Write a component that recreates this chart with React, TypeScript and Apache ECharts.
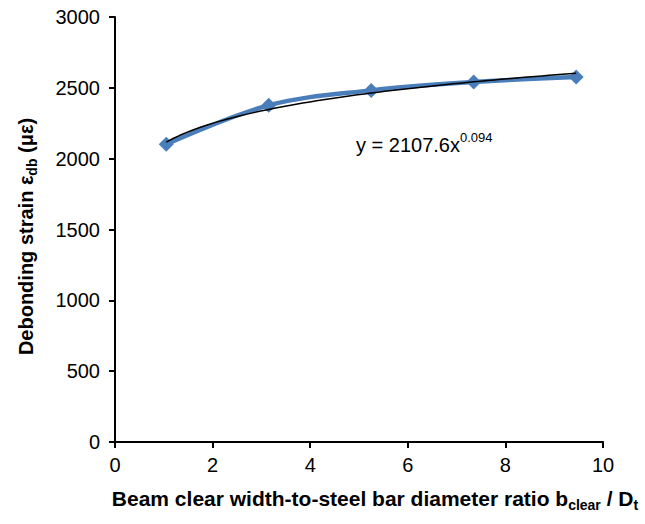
import React, { useEffect, useRef } from "react";
import * as echarts from "echarts";

const ratioValues = [1.05, 3.15, 5.25, 7.35, 9.45];
const strainValues = [2101, 2377, 2482, 2541, 2577];
const xTicks = { min: 0, max: 10, interval: 2 };
const yTicks = { min: 0, max: 3000, interval: 500 };
const trendCoef = 2107.6;
const trendExp = 0.094;

export default function App() {
  const ref = useRef<HTMLDivElement>(null);
  useEffect(() => {
    if (!ref.current) return;
    const chart = echarts.init(ref.current, null, { renderer: "svg" });
    const measured = ratioValues.map((x, i) => [x, strainValues[i]]);
    const x0 = ratioValues[0];
    const x1 = ratioValues[ratioValues.length - 1];
    const trend: number[][] = [];
    const n = 60;
    for (let i = 0; i <= n; i++) {
      const x = x0 + ((x1 - x0) * i) / n;
      trend.push([x, trendCoef * Math.pow(x, trendExp)]);
    }
    const font = "'Liberation Sans', Arial, sans-serif";
    const axisLine = { lineStyle: { color: "#000", width: 2 } };
    const axisTick = { length: 6, lineStyle: { color: "#000", width: 2 } };
    const plain = (v: number) => String(v);
    chart.setOption({
      animation: false,
      backgroundColor: "#fff",
      textStyle: { fontFamily: font },
      grid: { left: 115, right: 42, top: 17, bottom: 82 },
      xAxis: {
        type: "value",
        ...xTicks,
        axisLine,
        axisTick,
        splitLine: { show: false },
        axisLabel: { fontSize: 20, color: "#000", margin: 13, fontFamily: font, formatter: plain },
        name: "{n|Beam clear width-to-steel bar diameter ratio b}{s|clear}{n| / D}{s|t}",
        nameLocation: "middle",
        nameGap: 42,
        nameTextStyle: {
          padding: [0, 0, 0, 32],
          rich: {
            n: { fontSize: 21, fontWeight: "bold", color: "#000", fontFamily: font, lineHeight: 28, verticalAlign: "middle" },
            s: { fontSize: 14, fontWeight: "bold", color: "#000", fontFamily: font, lineHeight: 28, verticalAlign: "bottom", padding: [9, 0, 0, 0] },
          },
        },
      },
      yAxis: {
        type: "value",
        ...yTicks,
        axisLine: { show: true, ...axisLine },
        axisTick: { show: true, ...axisTick },
        splitLine: { show: false },
        axisLabel: { fontSize: 20, color: "#000", margin: 15, fontFamily: font, formatter: plain },
        name: "{n|Debonding strain ε}{s|db}{n| (με)}",
        nameLocation: "middle",
        nameGap: 76,
        nameTextStyle: {
          padding: [0, 14, 0, 0],
          rich: {
            n: { fontSize: 20, fontWeight: "bold", color: "#000", fontFamily: font, lineHeight: 27, verticalAlign: "middle" },
            s: { fontSize: 14, fontWeight: "bold", color: "#000", fontFamily: font, lineHeight: 27, verticalAlign: "bottom", padding: [8, 0, 0, 0] },
          },
        },
      },
      graphic: [
        {
          type: "text",
          left: 356,
          top: 131,
          style: {
            text: "{n|y = 2107.6x}{p|0.094}",
            fontFamily: font,
            rich: {
              n: { fontSize: 20, fill: "#000", fontFamily: font, lineHeight: 28, verticalAlign: "middle" },
              p: { fontSize: 13, fill: "#000", fontFamily: font, lineHeight: 28, verticalAlign: "top", padding: [0, 0, 10, 0] },
            },
          },
        },
      ],
      series: [
        {
          type: "line",
          data: measured,
          smooth: 0.35,
          symbol: "diamond",
          symbolSize: 15,
          lineStyle: { color: "#4A7EBB", width: 4.5 },
          itemStyle: { color: "#4A7EBB" },
          z: 2,
        },
        {
          type: "line",
          data: trend,
          showSymbol: false,
          symbol: "none",
          lineStyle: { color: "#000", width: 1.5 },
          z: 3,
        },
      ],
    });
    return () => chart.dispose();
  }, []);
  return (
    <div
      ref={ref}
      style={{ position: "absolute", left: 0, top: 0, width: 645, height: 524 }}
    />
  );
}
